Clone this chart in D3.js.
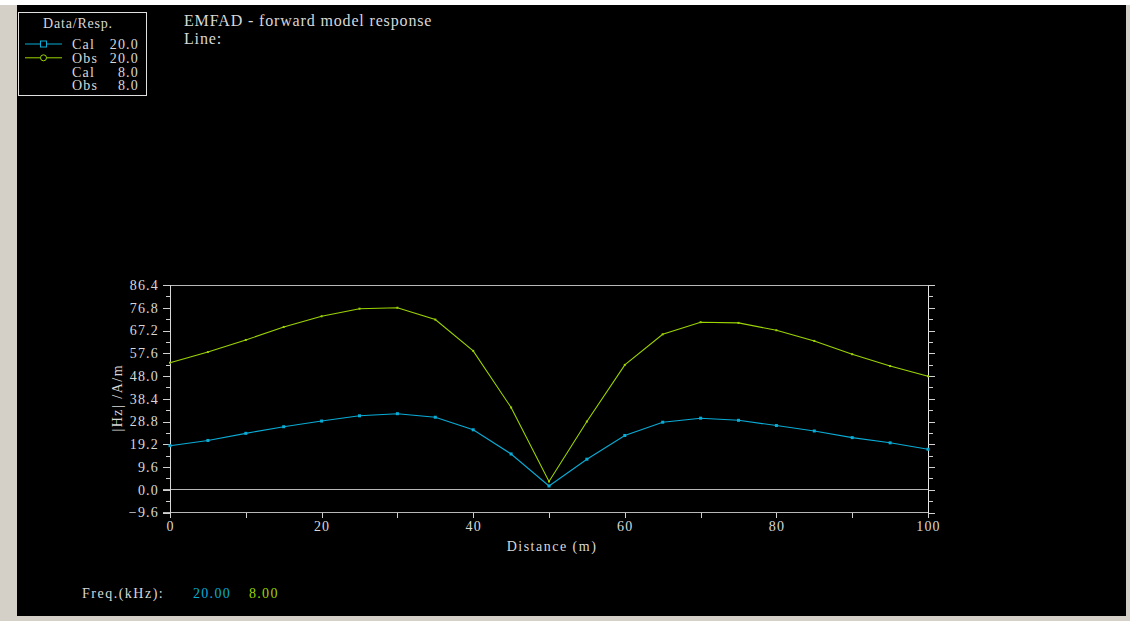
<!DOCTYPE html>
<html>
<head>
<meta charset="utf-8">
<script src="https://cdn.jsdelivr.net/npm/d3@7"></script>
<style>
  html, body { margin: 0; padding: 0; background: #fff; }
  svg { display: block; }
  text { font-family: "Liberation Serif", serif; fill: #d8d8d8; }
</style>
</head>
<body>
<script>
// station positions along the line (m)
const distance = [0, 5, 10, 15, 20, 25, 30, 35, 40, 45, 50, 55, 60, 65, 70, 75, 80, 85, 90, 95, 100];
// |Hz| responses at 20 kHz
const cal20 = [18.6, 20.8, 23.8, 26.6, 29.0, 31.2, 32.1, 30.6, 25.3, 15.1, 1.6, 12.9, 22.9, 28.5, 30.2, 29.3, 27.1, 24.8, 22.0, 19.8, 17.1];
const obs20 = [53.6, 58.1, 63.2, 68.7, 73.2, 76.4, 76.8, 71.8, 58.6, 34.7, 3.5, 28.8, 52.7, 65.6, 70.7, 70.4, 67.3, 62.8, 57.2, 52.2, 47.9];

const yMajor = [-9.6, 0.0, 9.6, 19.2, 28.8, 38.4, 48.0, 57.6, 67.2, 76.8, 86.4];
const yMinor = [-4.8, 4.8, 14.4, 24.0, 33.6, 43.2, 52.8, 62.4, 72.0, 81.6];
const xMajor = [0, 20, 40, 60, 80, 100];
const xMinor = [10, 30, 50, 70, 90];

const blue = "#08acd6", green = "#9cd400", axisCol = "#b8b8b8";

const legendRows = [
  { name: "Cal", freq: "20.0", color: blue, mark: "square" },
  { name: "Obs", freq: "20.0", color: green, mark: "circle" },
  { name: "Cal", freq: "8.0", color: null },
  { name: "Obs", freq: "8.0", color: null }
];
const freqs = [{ label: "20.00", color: blue }, { label: "8.00", color: green }];

const W = 1130, H = 621;

const svg = d3.select("body").append("svg")
  .attr("width", W)
  .attr("height", H);

// window frame
svg.append("rect").attr("x", 0).attr("y", 5).attr("width", W).attr("height", H - 5).attr("fill", "#d4d0c8");
svg.append("rect").attr("x", 17).attr("y", 5).attr("width", 1109).attr("height", 611).attr("fill", "#000");

const x = d3.scaleLinear().domain([0, 100]).range([170, 928]);
const y = d3.scaleLinear().domain([-9.6, 86.4]).range([512.5, 285]);

const g = svg.append("g").attr("shape-rendering", "crispEdges");

// frame lines: top, zero, bottom
g.append("line").attr("x1", 163).attr("x2", x(100)).attr("y1", y(86.4)).attr("y2", y(86.4)).attr("stroke", axisCol);
g.append("line").attr("x1", 163).attr("x2", x(100)).attr("y1", y(0)).attr("y2", y(0)).attr("stroke", axisCol);
g.append("line").attr("x1", 163).attr("x2", x(100)).attr("y1", y(-9.6)).attr("y2", y(-9.6)).attr("stroke", axisCol);
// left and right axis lines
g.append("line").attr("x1", x(0)).attr("x2", x(0)).attr("y1", y(86.4)).attr("y2", y(-9.6) + 5).attr("stroke", "#d8d8d8");
g.append("line").attr("x1", x(100)).attr("x2", x(100)).attr("y1", y(86.4)).attr("y2", y(-9.6) + 5).attr("stroke", "#e8e8e8");

// left axis
const leftMajor = g.append("g").attr("transform", `translate(${x(0)},0)`)
  .call(d3.axisLeft(y).tickValues(yMajor).tickSize(7).tickPadding(5).tickFormat(d3.format(".1f")));
const leftMinor = g.append("g").attr("transform", `translate(${x(0)},0)`)
  .call(d3.axisLeft(y).tickValues(yMinor).tickSize(4).tickFormat(""));

// right axis, ticks outward
const rightMajor = g.append("g").attr("transform", `translate(${x(100)},0)`)
  .call(d3.axisRight(y).tickValues(yMajor).tickSize(7).tickFormat(""));
const rightMinor = g.append("g").attr("transform", `translate(${x(100)},0)`)
  .call(d3.axisRight(y).tickValues(yMinor).tickSize(5).tickFormat(""));

// bottom axis
const bottomMajor = g.append("g").attr("transform", `translate(0,${y(-9.6)})`)
  .call(d3.axisBottom(x).tickValues(xMajor).tickSize(5).tickPadding(4).tickFormat(d3.format("d")));
const bottomMinor = g.append("g").attr("transform", `translate(0,${y(-9.6)})`)
  .call(d3.axisBottom(x).tickValues(xMinor).tickSize(5).tickFormat(""));

[leftMajor, leftMinor, rightMajor, rightMinor, bottomMajor, bottomMinor].forEach(a => {
  a.select(".domain").remove();
  a.selectAll(".tick line").attr("stroke", "#d0d0d0");
  a.selectAll("text")
    .attr("fill", "#d8d8d8")
    .style("font-family", "Liberation Serif")
    .style("font-size", "14px")
    .style("letter-spacing", "1.2px");
});
leftMajor.selectAll("text").attr("dx", "1px");

// axis titles
svg.append("text")
  .attr("x", (x(0) + x(100)) / 2 + 3)
  .attr("y", 551)
  .attr("text-anchor", "middle")
  .style("font-size", "14px")
  .style("letter-spacing", "1.5px")
  .text("Distance (m)");

svg.append("text")
  .attr("transform", `translate(122,${(y(86.4) + y(-9.6)) / 2 - 1}) rotate(-90)`)
  .attr("text-anchor", "middle")
  .style("font-size", "14px")
  .style("letter-spacing", "1.5px")
  .text("|Hz| /A/m");

// data
const line = d3.line().x(d => x(d[0])).y(d => y(d[1]));
const series = [
  { values: d3.zip(distance, cal20), color: blue, size: 3 },
  { values: d3.zip(distance, obs20), color: green, size: 2 }
];
series.forEach(s => {
  svg.append("path")
    .datum(s.values)
    .attr("fill", "none")
    .attr("stroke", s.color)
    .attr("stroke-width", 1.1)
    .attr("d", line);
  svg.append("g").selectAll("rect")
    .data(s.values)
    .join("rect")
      .attr("x", d => x(d[0]) - s.size / 2)
      .attr("y", d => y(d[1]) - s.size / 2)
      .attr("width", s.size)
      .attr("height", s.size)
      .attr("fill", s.color);
});

// title
svg.append("text")
  .attr("x", 184).attr("y", 26)
  .style("font-size", "16px")
  .style("letter-spacing", "0.85px")
  .attr("fill", "#e8e8e8")
  .text("EMFAD - forward model response");
svg.append("text")
  .attr("x", 184).attr("y", 44)
  .style("font-size", "16px")
  .style("letter-spacing", "0.85px")
  .attr("fill", "#e8e8e8")
  .text("Line:");

// legend
const legend = svg.append("g");
legend.append("rect")
  .attr("x", 18.5).attr("y", 12.5).attr("width", 128).attr("height", 83)
  .attr("fill", "none").attr("stroke", "#e0e0e0");
legend.append("text")
  .attr("x", 78).attr("y", 28)
  .attr("text-anchor", "middle")
  .style("font-size", "14px")
  .style("letter-spacing", "0.8px")
  .text("Data/Resp.");

legend.selectAll(".legend-item")
  .data(legendRows)
  .enter()
  .append("g")
    .attr("class", "legend-item")
    .each(function(d, i) {
      const ry = 44 + i * 13.8;
      const row = d3.select(this);
      if (d.color) {
        row.append("line")
          .attr("x1", 25).attr("x2", 62).attr("y1", ry).attr("y2", ry)
          .attr("stroke", d.color);
        if (d.mark === "square") {
          row.append("rect")
            .attr("x", 40.5).attr("y", ry - 3).attr("width", 6).attr("height", 6)
            .attr("fill", "#000").attr("stroke", d.color);
        } else {
          row.append("circle")
            .attr("cx", 43.5).attr("cy", ry).attr("r", 3)
            .attr("fill", "#000").attr("stroke", d.color);
        }
      }
      row.append("text")
        .attr("x", 72).attr("y", ry + 5)
        .style("font-size", "14px")
        .style("letter-spacing", "1.2px")
        .text(d.name);
      row.append("text")
        .attr("x", 139).attr("y", ry + 5)
        .attr("text-anchor", "end")
        .style("font-size", "14px")
        .style("letter-spacing", "1.2px")
        .text(d.freq);
    });

// frequency footer
svg.append("text")
  .attr("x", 82).attr("y", 598)
  .style("font-size", "14px")
  .style("letter-spacing", "1.5px")
  .text("Freq.(kHz):");
svg.selectAll(".freq")
  .data(freqs)
  .join("text")
    .attr("class", "freq")
    .attr("x", (d, i) => i === 0 ? 193 : 249)
    .attr("y", 598)
    .style("font-size", "14px")
    .style("letter-spacing", "1.3px")
    .style("fill", d => d.color)
    .text(d => d.label);
</script>
</body>
</html>
